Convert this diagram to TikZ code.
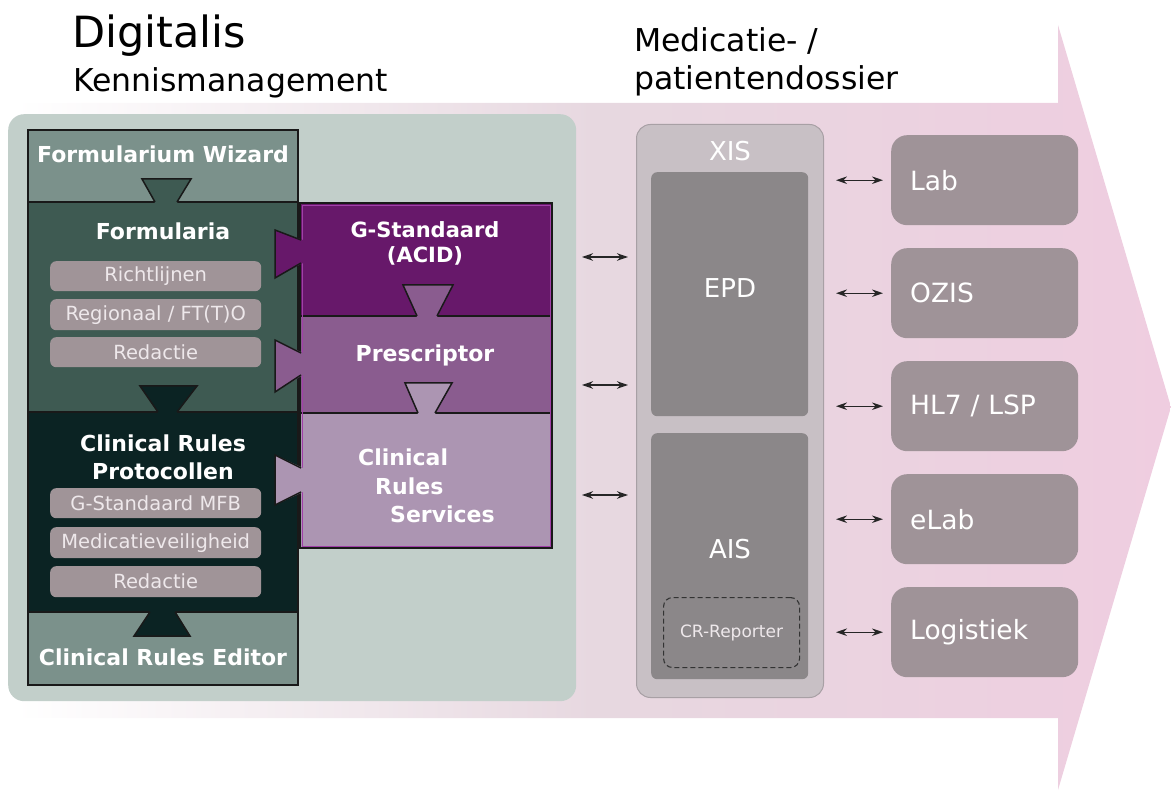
\documentclass[tikz,border=0pt]{standalone}
\usepackage{fontspec}
\setmainfont{DejaVu Sans}
\usetikzlibrary{arrows.meta}
\definecolor{pinkend}{HTML}{EFCDE0}
\definecolor{pinkmid}{HTML}{E7D8E0}
\definecolor{panelgreen}{HTML}{C2CFCA}
\definecolor{wizc}{HTML}{7B918B}
\definecolor{formc}{HTML}{3E5A52}
\definecolor{crpc}{HTML}{0B2323}
\definecolor{subc}{HTML}{A09498}
\definecolor{subtxt}{HTML}{EEE8EB}
\definecolor{gstdc}{HTML}{67186A}
\definecolor{presc}{HTML}{8A5C8F}
\definecolor{servc}{HTML}{AC95B2}
\definecolor{purpline}{HTML}{A040A8}
\definecolor{xisc}{HTML}{C8C0C5}
\definecolor{xisline}{HTML}{A8A0A5}
\definecolor{innerc}{HTML}{8B8789}
\definecolor{extc}{HTML}{9F9398}
\tikzset{
  colbox/.style={draw=black!90, line width=1.3pt, anchor=north west, inner sep=0pt, outer sep=0pt},
  tabline/.style={draw=black!90, line width=1.5pt, line join=miter},
  btitle/.style={text=white, font=\fontsize{22}{27}\selectfont\bfseries, align=center, inner sep=0pt},
  subbox/.style={fill=subc, rounded corners=6pt, anchor=north west, minimum width=211pt, inner sep=0pt, text=subtxt, font=\fontsize{19.5}{23}\selectfont},
  inbox/.style={fill=innerc, rounded corners=6pt, anchor=north west, minimum width=157pt, inner sep=0pt},
  intext/.style={text=white, font=\fontsize{26}{30}\selectfont, inner sep=0pt},
  extbox/.style={fill=extc, rounded corners=16pt, anchor=north west, minimum width=187pt, minimum height=90pt, text width=149pt, inner xsep=19pt, inner ysep=0pt, align=left, text=white, font=\fontsize{26.5}{30}\selectfont},
  dbl/.style={{Stealth[length=11pt,width=7.5pt]}-{Stealth[length=11pt,width=7.5pt]}, line width=1.2pt, draw=black!85},
  headtxt/.style={font=\fontsize{31.5}{36}\selectfont, anchor=base west, inner sep=0pt}
}
\begin{document}
\begin{tikzpicture}[x=1pt,y=-1pt]
\useasboundingbox (0,0) rectangle (1171,791);
% big arrow
\shade[left color=white, right color=pinkend, middle color=pinkmid]
  (15,103) -- (1058,103) -- (1058,25) -- (1171,407) -- (1058,790) -- (1058,718) -- (15,718) -- cycle;
% titles
\node[headtxt, font=\fontsize{43}{48}\selectfont] (t1) at (72,48) {Digitalis};
\node[headtxt] (t2) at (73,92) {Kennismanagement};
\node[headtxt] (t3) at (634,52) {Medicatie- /};
\node[headtxt] (t4) at (634,90) {patientendossier};
% green panel
\node[fill=panelgreen, rounded corners=16pt, anchor=north west, minimum width=568pt, minimum height=587pt, inner sep=0pt] (panel) at (8,114) {};
% left column boxes
\node[colbox, fill=wizc, minimum width=270pt, minimum height=72pt] (wiz) at (28,130) {};
\node[colbox, fill=formc, minimum width=270pt, minimum height=210pt] (form) at (28,202) {};
\node[colbox, fill=crpc, minimum width=270pt, minimum height=200pt] (crp) at (28,412) {};
\node[colbox, fill=wizc, minimum width=270pt, minimum height=73pt] (edit) at (28,612) {};
% purple boxes
\node[colbox, fill=gstdc, minimum width=252pt, minimum height=113pt] (gstd) at (300,203) {};
\node[colbox, fill=presc, minimum width=252pt, minimum height=97pt] (pres) at (300,316) {};
\node[colbox, fill=servc, minimum width=252pt, minimum height=135pt] (serv) at (300,413) {};
\draw[purpline, line width=0.8pt] (302,205) rectangle (550,546);
% tabs (vertical)
\fill[formc] (155,203) -- (142,179) -- (191,179) -- (177,203) -- cycle;
\draw[tabline] (155,202) -- (142,179) -- (191,179) -- (177,202);
\fill[crpc] (158,413) -- (140,386) -- (197,386) -- (177,413) -- cycle;
\draw[tabline] (158,412) -- (140,386) -- (197,386) -- (177,412);
\fill[crpc] (150,611) -- (134,636) -- (190,636) -- (175,611) -- cycle;
\draw[tabline] (150,612) -- (134,636) -- (190,636) -- (175,612);
\fill[presc] (417,317) -- (403,285) -- (453,285) -- (437,317) -- cycle;
\draw[tabline] (417,316) -- (403,285) -- (453,285) -- (437,316);
\fill[servc] (418,414) -- (405,383) -- (452,383) -- (435,414) -- cycle;
\draw[tabline] (418,413) -- (405,383) -- (452,383) -- (435,413);
% tabs (horizontal)
\fill[gstdc] (303,240) -- (275,230) -- (275,278) -- (303,263) -- cycle;
\draw[tabline] (301,240) -- (275,230) -- (275,278) -- (301,263);
\fill[presc] (303,353) -- (275,340) -- (275,392) -- (303,375) -- cycle;
\draw[tabline] (301,353) -- (275,340) -- (275,392) -- (301,375);
\fill[servc] (303,468) -- (275,455) -- (275,505) -- (303,492) -- cycle;
\draw[tabline] (301,468) -- (275,455) -- (275,505) -- (301,492);
% titles in boxes
\node[btitle] (wizt) at (163,154) {Formularium Wizard};
\node[btitle] (formt) at (163,231) {Formularia};
\node[btitle, font=\fontsize{22}{28}\selectfont\bfseries] (crpt) at (163,457) {Clinical Rules\\Protocollen};
\node[btitle] (editt) at (163,657) {Clinical Rules Editor};
\node[btitle, font=\fontsize{21}{25}\selectfont\bfseries] (gstdt) at (425,243) {G-Standaard\\(ACID)};
\node[btitle] (prest) at (425,355) {Prescriptor};
\node[btitle, align=left, anchor=north west, font=\fontsize{22}{28.5}\selectfont\bfseries] (servt) at (358,449) {Clinical\\\hspace*{17pt}Rules\\\hspace*{32pt}Services};
% sub boxes
\node[subbox, minimum height=30pt] (s1) at (50,261) {Richtlijnen};
\node[subbox, minimum height=31pt] (s2) at (50,299) {Regionaal / FT(T)O};
\node[subbox, minimum height=30pt] (s3) at (50,337) {Redactie};
\node[subbox, minimum height=30pt] (s4) at (50,488) {G-Standaard MFB};
\node[subbox, minimum height=31pt] (s5) at (50,527) {Medicatieveiligheid};
\node[subbox, minimum height=31pt] (s6) at (50,566) {Redactie};
% XIS
\node[fill=xisc, draw=xisline, line width=1pt, rounded corners=14pt, anchor=north west, minimum width=187pt, minimum height=573pt, inner sep=0pt] (xis) at (636,124) {};
\node[intext] (xist) at (730,151) {XIS};
\node[inbox, minimum height=244pt] (epd) at (651,172) {};
\node[intext] (epdt) at (730,288) {EPD};
\node[inbox, minimum height=246pt] (ais) at (651,433) {};
\node[intext] (aist) at (730,549) {AIS};
\node[draw=black!80, dash pattern=on 5pt off 3pt, line width=1.1pt, rounded corners=9pt, anchor=north west, minimum width=136pt, minimum height=70pt, inner sep=0pt, text=subtxt, font=\fontsize{17}{20}\selectfont] (crr) at (663,597) {CR-Reporter};
% external boxes
\node[extbox] (lab) at (891,135) {Lab};
\node[extbox] (ozis) at (891,248) {OZIS};
\node[extbox] (hl7) at (891,361) {HL7 / LSP};
\node[extbox] (elab) at (891,474) {eLab};
\node[extbox] (logi) at (891,587) {Logistiek};
% arrows left
\coordinate (la1) at (582,257); \coordinate (lb1) at (628,257);
\coordinate (la2) at (582,385); \coordinate (lb2) at (628,385);
\coordinate (la3) at (582,495); \coordinate (lb3) at (628,495);
\draw[dbl] (la1) -- (lb1);
\draw[dbl] (la2) -- (lb2);
\draw[dbl] (la3) -- (lb3);
% arrows right
\foreach \n in {lab,ozis,hl7,elab,logi}{
  \draw[dbl] ([xshift=-55pt]\n.west) -- ([xshift=-8pt]\n.west);
}
\end{tikzpicture}
\end{document}
